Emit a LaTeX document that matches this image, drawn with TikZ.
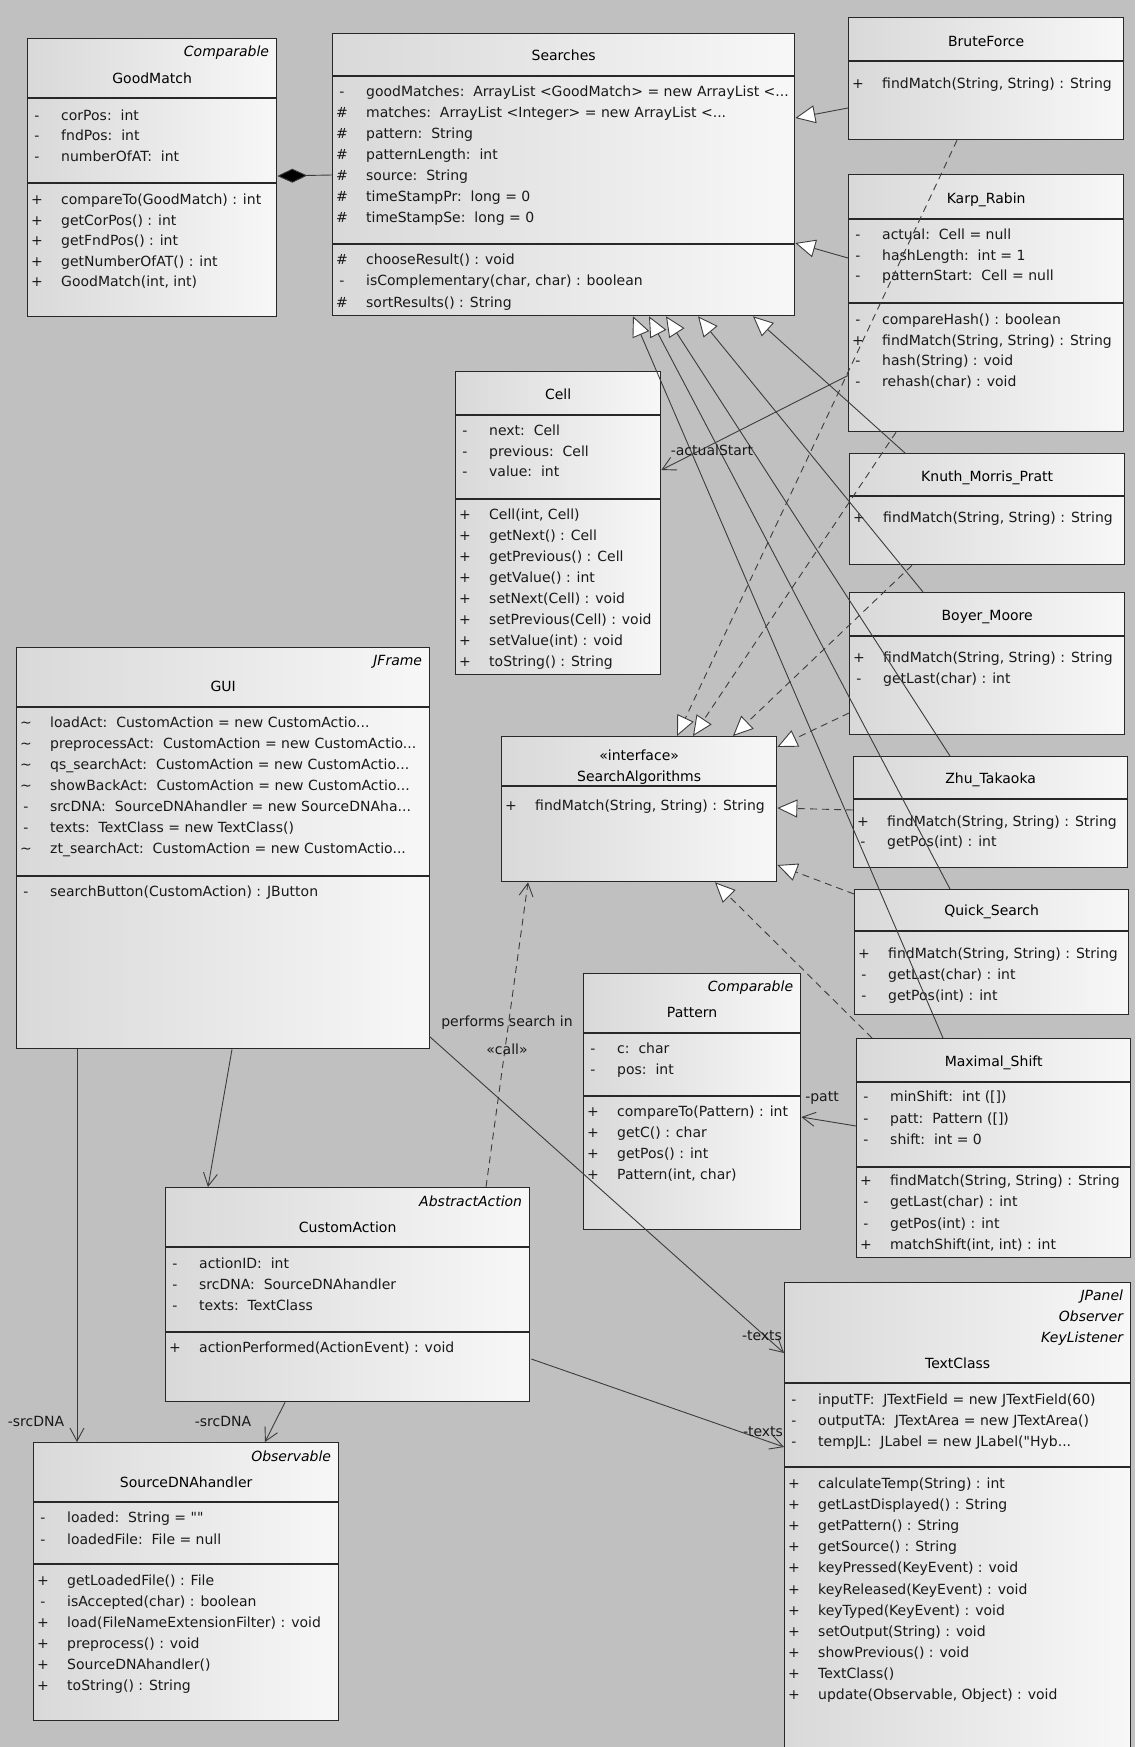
\documentclass[tikz,border=0pt]{standalone}
\usepackage{fontspec}
\newfontfamily\umlfont{DejaVu Sans}
\usetikzlibrary{arrows.meta,calc}
\definecolor{bgc}{RGB}{192,192,192}
\definecolor{lnc}{RGB}{40,40,40}
\definecolor{cnc}{RGB}{60,60,60}
\tikzset{
  cls/.style={draw=lnc, line width=1.3pt, anchor=north west, inner sep=0pt, left color=black!15, right color=black!3},
  sep/.style={draw=lnc, line width=1.2pt},
  vis/.style={inner sep=0pt, text height=10pt, text depth=3pt, text=black!90},
  mem/.style={anchor=west, inner sep=0pt, text height=10pt, text depth=3pt, text=black!90},
  cname/.style={inner sep=0pt, text height=10pt, text depth=3pt, text=black},
  stereo/.style={anchor=east, inner sep=0pt, text height=10pt, text depth=3pt, font=\itshape, text=black},
  lbl/.style={inner sep=0pt, text height=10pt, text depth=3pt, text=black!90},
  gen/.style={draw=cnc, line width=0.9pt, -{Triangle[length=20pt, width=18pt, fill=white]}},
  real/.style={gen, dash pattern=on 7pt off 5pt},
  assoc/.style={draw=cnc, line width=0.9pt, -{Straight Barb[length=13pt, width=14pt]}},
  dep/.style={assoc, dash pattern=on 7pt off 5pt},
  comp/.style={draw=cnc, line width=0.9pt, -{Diamond[length=30pt, width=14pt, fill=black]}}
}
\begin{document}
\umlfont\fontsize{14}{16}\selectfont
\begin{tikzpicture}[x=1pt,y=-1pt]
\useasboundingbox (0,0) rectangle (1135,1747);
\clip (0,0) rectangle (1135,1747);
\fill[bgc] (0,0) rectangle (1135,1747);

\node[cls, minimum width=249pt, minimum height=278pt] (gm) at (27,38) {};
\node[stereo] (gmst) at ($(gm.north east)+(-8,15)$) {Comparable};
\node[cname] (gmnm) at ($(gm.north)+(0,42)$) {GoodMatch};
\draw[sep] ($(gm.north west)+(0,60)$) -- ($(gm.north east)+(0,60)$);
\draw[sep] ($(gm.north west)+(0,145)$) -- ($(gm.north east)+(0,145)$);
\foreach \vs/\mt [count=\i from 0] in {-/{corPos:\ \ int}, -/{fndPos:\ \ int}, -/{numberOfAT:\ \ int}}{
  \node[vis] (gmav\i) at ($(gm.north west)+(10,79+20.5*\i)$) {\vs};
  \node[mem] (gma\i) at ($(gm.north west)+(34,79+20.5*\i)$) {\mt};
}
\foreach \vs/\mt [count=\i from 0] in {+/{compareTo(GoodMatch) : int}, +/{getCorPos() : int}, +/{getFndPos() : int}, +/{getNumberOfAT() : int}, +/{GoodMatch(int, int)}}{
  \node[vis] (gmmv\i) at ($(gm.north west)+(10,163+20.5*\i)$) {\vs};
  \node[mem] (gmm\i) at ($(gm.north west)+(34,163+20.5*\i)$) {\mt};
}

\node[cls, minimum width=462pt, minimum height=282pt] (se) at (332,33) {};
\node[cname] (senm) at ($(se.north)+(0,24)$) {Searches};
\draw[sep] ($(se.north west)+(0,43)$) -- ($(se.north east)+(0,43)$);
\draw[sep] ($(se.north west)+(0,211)$) -- ($(se.north east)+(0,211)$);
\foreach \vs/\mt [count=\i from 0] in {-/{goodMatches:\ \ ArrayList <GoodMatch> = new ArrayList <...}, {\#}/{matches:\ \ ArrayList <Integer> = new ArrayList <...}, {\#}/{pattern:\ \ String}, {\#}/{patternLength:\ \ int}, {\#}/{source:\ \ String}, {\#}/{timeStampPr:\ \ long = 0}, {\#}/{timeStampSe:\ \ long = 0}}{
  \node[vis] (seav\i) at ($(se.north west)+(10,60+21*\i)$) {\vs};
  \node[mem] (sea\i) at ($(se.north west)+(34,60+21*\i)$) {\mt};
}
\foreach \vs/\mt [count=\i from 0] in {{\#}/{chooseResult() : void}, -/{isComplementary(char, char) : boolean}, {\#}/{sortResults() : String}}{
  \node[vis] (semv\i) at ($(se.north west)+(10,228+21.3*\i)$) {\vs};
  \node[mem] (sem\i) at ($(se.north west)+(34,228+21.3*\i)$) {\mt};
}

\node[cls, minimum width=275pt, minimum height=122pt] (bf) at (848,17) {};
\node[cname] (bfnm) at ($(bf.north)+(0,26)$) {BruteForce};
\draw[sep] ($(bf.north west)+(0,44)$) -- ($(bf.north east)+(0,44)$);
\node[vis] (bfmv0) at ($(bf.north west)+(10,68)$) {+};
\node[mem] (bfm0) at ($(bf.north west)+(34,68)$) {findMatch(String, String) : String};

\node[cls, minimum width=275pt, minimum height=257pt] (kr) at (848,174) {};
\node[cname] (krnm) at ($(kr.north)+(0,26)$) {Karp\_Rabin};
\draw[sep] ($(kr.north west)+(0,45)$) -- ($(kr.north east)+(0,45)$);
\draw[sep] ($(kr.north west)+(0,129)$) -- ($(kr.north east)+(0,129)$);
\foreach \vs/\mt [count=\i from 0] in {-/{actual:\ \ Cell = null}, -/{hashLength:\ \ int = 1}, -/{patternStart:\ \ Cell = null}}{
  \node[vis] (krav\i) at ($(kr.north west)+(10,62+20.5*\i)$) {\vs};
  \node[mem] (kra\i) at ($(kr.north west)+(34,62+20.5*\i)$) {\mt};
}
\foreach \vs/\mt [count=\i from 0] in {-/{compareHash() : boolean}, +/{findMatch(String, String) : String}, -/{hash(String) : void}, -/{rehash(char) : void}}{
  \node[vis] (krmv\i) at ($(kr.north west)+(10,147+20.7*\i)$) {\vs};
  \node[mem] (krm\i) at ($(kr.north west)+(34,147+20.7*\i)$) {\mt};
}

\node[cls, minimum width=275pt, minimum height=111pt] (kmp) at (849,453) {};
\node[cname] (kmpnm) at ($(kmp.north)+(0,25)$) {Knuth\_Morris\_Pratt};
\draw[sep] ($(kmp.north west)+(0,43)$) -- ($(kmp.north east)+(0,43)$);
\node[vis] (kmpmv0) at ($(kmp.north west)+(10,66)$) {+};
\node[mem] (kmpm0) at ($(kmp.north west)+(34,66)$) {findMatch(String, String) : String};

\node[cls, minimum width=275pt, minimum height=142pt] (bm) at (849,592) {};
\node[cname] (bmnm) at ($(bm.north)+(0,25)$) {Boyer\_Moore};
\draw[sep] ($(bm.north west)+(0,44)$) -- ($(bm.north east)+(0,44)$);
\foreach \vs/\mt [count=\i from 0] in {+/{findMatch(String, String) : String}, -/{getLast(char) : int}}{
  \node[vis] (bmmv\i) at ($(bm.north west)+(10,67+21*\i)$) {\vs};
  \node[mem] (bmm\i) at ($(bm.north west)+(34,67+21*\i)$) {\mt};
}

\node[cls, minimum width=274pt, minimum height=111pt] (zt) at (853,756) {};
\node[cname] (ztnm) at ($(zt.north)+(0,24)$) {Zhu\_Takaoka};
\draw[sep] ($(zt.north west)+(0,43)$) -- ($(zt.north east)+(0,43)$);
\foreach \vs/\mt [count=\i from 0] in {+/{findMatch(String, String) : String}, -/{getPos(int) : int}}{
  \node[vis] (ztmv\i) at ($(zt.north west)+(10,67+20*\i)$) {\vs};
  \node[mem] (ztm\i) at ($(zt.north west)+(34,67+20*\i)$) {\mt};
}

\node[cls, minimum width=274pt, minimum height=125pt] (qs) at (854,889) {};
\node[cname] (qsnm) at ($(qs.north)+(0,23)$) {Quick\_Search};
\draw[sep] ($(qs.north west)+(0,42)$) -- ($(qs.north east)+(0,42)$);
\foreach \vs/\mt [count=\i from 0] in {+/{findMatch(String, String) : String}, -/{getLast(char) : int}, -/{getPos(int) : int}}{
  \node[vis] (qsmv\i) at ($(qs.north west)+(10,66+21*\i)$) {\vs};
  \node[mem] (qsm\i) at ($(qs.north west)+(34,66+21*\i)$) {\mt};
}

\node[cls, minimum width=274pt, minimum height=219pt] (ms) at (856,1038) {};
\node[cname] (msnm) at ($(ms.north)+(0,25)$) {Maximal\_Shift};
\draw[sep] ($(ms.north west)+(0,44)$) -- ($(ms.north east)+(0,44)$);
\draw[sep] ($(ms.north west)+(0,129)$) -- ($(ms.north east)+(0,129)$);
\foreach \vs/\mt [count=\i from 0] in {-/{minShift:\ \ int ([])}, -/{patt:\ \ Pattern ([])}, -/{shift:\ \ int = 0}}{
  \node[vis] (msav\i) at ($(ms.north west)+(10,60+21.5*\i)$) {\vs};
  \node[mem] (msa\i) at ($(ms.north west)+(34,60+21.5*\i)$) {\mt};
}
\foreach \vs/\mt [count=\i from 0] in {+/{findMatch(String, String) : String}, -/{getLast(char) : int}, -/{getPos(int) : int}, +/{matchShift(int, int) : int}}{
  \node[vis] (msmv\i) at ($(ms.north west)+(10,144+21.3*\i)$) {\vs};
  \node[mem] (msm\i) at ($(ms.north west)+(34,144+21.3*\i)$) {\mt};
}

\node[cls, minimum width=205pt, minimum height=303pt] (cell) at (455,371) {};
\node[cname] (cellnm) at ($(cell.north)+(0,25)$) {Cell};
\draw[sep] ($(cell.north west)+(0,44)$) -- ($(cell.north east)+(0,44)$);
\draw[sep] ($(cell.north west)+(0,128)$) -- ($(cell.north east)+(0,128)$);
\foreach \vs/\mt [count=\i from 0] in {-/{next:\ \ Cell}, -/{previous:\ \ Cell}, -/{value:\ \ int}}{
  \node[vis] (cellav\i) at ($(cell.north west)+(10,61+20.5*\i)$) {\vs};
  \node[mem] (cella\i) at ($(cell.north west)+(34,61+20.5*\i)$) {\mt};
}
\foreach \vs/\mt [count=\i from 0] in {+/{Cell(int, Cell)}, +/{getNext() : Cell}, +/{getPrevious() : Cell}, +/{getValue() : int}, +/{setNext(Cell) : void}, +/{setPrevious(Cell) : void}, +/{setValue(int) : void}, +/{toString() : String}}{
  \node[vis] (cellmv\i) at ($(cell.north west)+(10,145+21*\i)$) {\vs};
  \node[mem] (cellm\i) at ($(cell.north west)+(34,145+21*\i)$) {\mt};
}

\node[cls, minimum width=275pt, minimum height=145pt] (sa) at (501,736) {};
\node[cname] (sast) at ($(sa.north)+(0,21)$) {«interface»};
\node[cname] (sanm) at ($(sa.north)+(0,42)$) {SearchAlgorithms};
\draw[sep] ($(sa.north west)+(0,50)$) -- ($(sa.north east)+(0,50)$);
\node[vis] (samv0) at ($(sa.north west)+(10,71)$) {+};
\node[mem] (sam0) at ($(sa.north west)+(34,71)$) {findMatch(String, String) : String};

\node[cls, minimum width=217pt, minimum height=256pt] (pat) at (583,973) {};
\node[stereo] (patst) at ($(pat.north east)+(-8,15)$) {Comparable};
\node[cname] (patnm) at ($(pat.north)+(0,41)$) {Pattern};
\draw[sep] ($(pat.north west)+(0,60)$) -- ($(pat.north east)+(0,60)$);
\draw[sep] ($(pat.north west)+(0,123)$) -- ($(pat.north east)+(0,123)$);
\foreach \vs/\mt [count=\i from 0] in {-/{c:\ \ char}, -/{pos:\ \ int}}{
  \node[vis] (patav\i) at ($(pat.north west)+(10,77+21*\i)$) {\vs};
  \node[mem] (pata\i) at ($(pat.north west)+(34,77+21*\i)$) {\mt};
}
\foreach \vs/\mt [count=\i from 0] in {+/{compareTo(Pattern) : int}, +/{getC() : char}, +/{getPos() : int}, +/{Pattern(int, char)}}{
  \node[vis] (patmv\i) at ($(pat.north west)+(10,140+21*\i)$) {\vs};
  \node[mem] (patm\i) at ($(pat.north west)+(34,140+21*\i)$) {\mt};
}

\node[cls, minimum width=413pt, minimum height=401pt] (gui) at (16,647) {};
\node[stereo] (guist) at ($(gui.north east)+(-8,15)$) {JFrame};
\node[cname] (guinm) at ($(gui.north)+(0,41)$) {GUI};
\draw[sep] ($(gui.north west)+(0,60)$) -- ($(gui.north east)+(0,60)$);
\draw[sep] ($(gui.north west)+(0,229)$) -- ($(gui.north east)+(0,229)$);
\foreach \vs/\mt [count=\i from 0] in {{\textasciitilde}/{loadAct:\ \ CustomAction = new CustomActio...}, {\textasciitilde}/{preprocessAct:\ \ CustomAction = new CustomActio...}, {\textasciitilde}/{qs\_searchAct:\ \ CustomAction = new CustomActio...}, {\textasciitilde}/{showBackAct:\ \ CustomAction = new CustomActio...}, -/{srcDNA:\ \ SourceDNAhandler = new SourceDNAha...}, -/{texts:\ \ TextClass = new TextClass()}, {\textasciitilde}/{zt\_searchAct:\ \ CustomAction = new CustomActio...}}{
  \node[vis] (guiav\i) at ($(gui.north west)+(10,77+21*\i)$) {\vs};
  \node[mem] (guia\i) at ($(gui.north west)+(34,77+21*\i)$) {\mt};
}
\node[vis] (guimv0) at ($(gui.north west)+(10,246)$) {-};
\node[mem] (guim0) at ($(gui.north west)+(34,246)$) {searchButton(CustomAction) : JButton};

\node[cls, minimum width=364pt, minimum height=214pt] (ca) at (165,1187) {};
\node[stereo] (cast) at ($(ca.north east)+(-8,16)$) {AbstractAction};
\node[cname] (canm) at ($(ca.north)+(0,42)$) {CustomAction};
\draw[sep] ($(ca.north west)+(0,60)$) -- ($(ca.north east)+(0,60)$);
\draw[sep] ($(ca.north west)+(0,145)$) -- ($(ca.north east)+(0,145)$);
\foreach \vs/\mt [count=\i from 0] in {-/{actionID:\ \ int}, -/{srcDNA:\ \ SourceDNAhandler}, -/{texts:\ \ TextClass}}{
  \node[vis] (caav\i) at ($(ca.north west)+(10,78+21*\i)$) {\vs};
  \node[mem] (caa\i) at ($(ca.north west)+(34,78+21*\i)$) {\mt};
}
\node[vis] (camv0) at ($(ca.north west)+(10,162)$) {+};
\node[mem] (cam0) at ($(ca.north west)+(34,162)$) {actionPerformed(ActionEvent) : void};

\node[cls, minimum width=305pt, minimum height=278pt] (sd) at (33,1442) {};
\node[stereo] (sdst) at ($(sd.north east)+(-8,16)$) {Observable};
\node[cname] (sdnm) at ($(sd.north)+(0,42)$) {SourceDNAhandler};
\draw[sep] ($(sd.north west)+(0,60)$) -- ($(sd.north east)+(0,60)$);
\draw[sep] ($(sd.north west)+(0,122)$) -- ($(sd.north east)+(0,122)$);
\foreach \vs/\mt [count=\i from 0] in {-/{loaded:\ \ String = ""}, -/{loadedFile:\ \ File = null}}{
  \node[vis] (sdav\i) at ($(sd.north west)+(10,77+22*\i)$) {\vs};
  \node[mem] (sda\i) at ($(sd.north west)+(34,77+22*\i)$) {\mt};
}
\foreach \vs/\mt [count=\i from 0] in {+/{getLoadedFile() : File}, -/{isAccepted(char) : boolean}, +/{load(FileNameExtensionFilter) : void}, +/{preprocess() : void}, +/{SourceDNAhandler()}, +/{toString() : String}}{
  \node[vis] (sdmv\i) at ($(sd.north west)+(10,140+21*\i)$) {\vs};
  \node[mem] (sdm\i) at ($(sd.north west)+(34,140+21*\i)$) {\mt};
}

\node[cls, minimum width=346pt, minimum height=480pt] (tc) at (784,1282) {};
\node[stereo] (tcst1) at ($(tc.north east)+(-8,15)$) {JPanel};
\node[stereo] (tcst2) at ($(tc.north east)+(-8,36)$) {Observer};
\node[stereo] (tcst3) at ($(tc.north east)+(-8,57)$) {KeyListener};
\node[cname] (tcnm) at ($(tc.north)+(0,83)$) {TextClass};
\draw[sep] ($(tc.north west)+(0,101)$) -- ($(tc.north east)+(0,101)$);
\draw[sep] ($(tc.north west)+(0,185)$) -- ($(tc.north east)+(0,185)$);
\foreach \vs/\mt [count=\i from 0] in {-/{inputTF:\ \ JTextField = new JTextField(60)}, -/{outputTA:\ \ JTextArea = new JTextArea()}, -/{tempJL:\ \ JLabel = new JLabel("Hyb...}}{
  \node[vis] (tcav\i) at ($(tc.north west)+(10,119+21*\i)$) {\vs};
  \node[mem] (tca\i) at ($(tc.north west)+(34,119+21*\i)$) {\mt};
}
\foreach \vs/\mt [count=\i from 0] in {+/{calculateTemp(String) : int}, +/{getLastDisplayed() : String}, +/{getPattern() : String}, +/{getSource() : String}, +/{keyPressed(KeyEvent) : void}, +/{keyReleased(KeyEvent) : void}, +/{keyTyped(KeyEvent) : void}, +/{setOutput(String) : void}, +/{showPrevious() : void}, +/{TextClass()}, +/{update(Observable, Object) : void}}{
  \node[vis] (tcmv\i) at ($(tc.north west)+(10,203+21.1*\i)$) {\vs};
  \node[mem] (tcm\i) at ($(tc.north west)+(34,203+21.1*\i)$) {\mt};
}

\draw[comp] ($(se.north west)+(0,142)$) -- ($(gm.north east)+(0,138)$);

\draw[gen] ($(bf.north west)+(0,91)$) -- ($(se.north east)+(0,85)$);
\draw[gen] ($(kr.north west)+(0,84)$) -- ($(se.north east)+(0,210)$);
\draw[gen] ($(kmp.north west)+(56,0)$) -- ($(se.south west)+(421,0)$);
\draw[gen] ($(bm.north west)+(74,0)$) -- ($(se.south west)+(366,0)$);
\draw[gen] ($(zt.north west)+(97,0)$) -- ($(se.south west)+(334,0)$);
\draw[gen] ($(qs.north west)+(96,0)$) -- ($(se.south west)+(317,0)$);
\draw[gen] ($(ms.north west)+(87,0)$) -- ($(se.south west)+(301,0)$);

\draw[real] ($(bf.south west)+(109,0)$) -- ($(sa.north west)+(176,0)$);
\draw[real] ($(kr.south west)+(48,0)$) -- ($(sa.north west)+(192,0)$);
\draw[real] ($(kmp.south west)+(63,0)$) -- ($(sa.north west)+(232,0)$);
\draw[real] ($(bm.north west)+(0,121)$) -- ($(sa.north east)+(0,11)$);
\draw[real] ($(zt.north west)+(0,54)$) -- ($(sa.north east)+(0,72)$);
\draw[real] ($(qs.north west)+(0,5)$) -- ($(sa.north east)+(0,129)$);
\draw[real] ($(ms.north west)+(16,0)$) -- ($(sa.south west)+(214,0)$);

\draw[assoc] ($(kr.north west)+(1,201)$) -- ($(cell.north east)+(0,99)$);
\node[lbl] (lbact) at (712,452) {-actualStart};
\draw[assoc] ($(ms.north west)+(0,88)$) -- ($(pat.north east)+(0,144)$);
\node[lbl] (lbpatt) at (822,1098) {-patt};

\draw[assoc] ($(gui.south west)+(61,0)$) -- ($(sd.north west)+(44,0)$);
\node[lbl] (lbsrc1) at (36,1423) {-srcDNA};
\draw[assoc] ($(gui.south west)+(216,0)$) -- ($(ca.north west)+(43,0)$);
\draw[assoc] ($(ca.south west)+(120,0)$) -- ($(sd.north west)+(232,0)$);
\node[lbl] (lbsrc2) at (223,1423) {-srcDNA};
\draw[dep] ($(ca.north west)+(321,0)$) -- ($(sa.south west)+(27,0)$);
\node[lbl] (lbperf) at (507,1023) {performs search in};
\node[lbl] (lbcall) at (507,1051) {«call»};
\draw[assoc] ($(gui.south east)+(-1,-13)$) -- ($(tc.north west)+(0,71)$);
\node[lbl] (lbtx1) at (762,1337) {-texts};
\draw[assoc] ($(ca.north east)+(1,172)$) -- ($(tc.north west)+(0,165)$);
\node[lbl] (lbtx2) at (763,1433) {-texts};
\end{tikzpicture}
\end{document}
